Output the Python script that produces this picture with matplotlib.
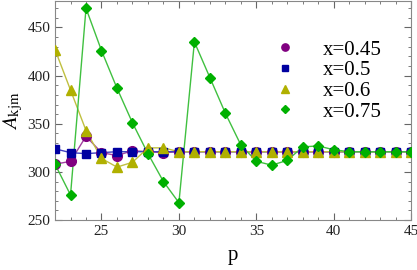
import matplotlib
matplotlib.use("Agg")
import matplotlib.pyplot as plt
from matplotlib.ticker import MultipleLocator

p = list(range(22, 46))
a_045 = [308, 311, 337, 320, 317, 322, 321, 320, 321, 321, 321, 321, 321, 321, 321, 321, 321, 321, 321, 321, 321, 321, 321, 321]
a_050 = [324, 320, 319, 320, 321, 321, 321, 321, 321, 321, 321, 321, 321, 321, 321, 321, 321, 321, 321, 321, 321, 321, 321, 321]
a_060 = [427, 385, 343, 314, 305, 310, 325, 325, 321, 321, 321, 321, 321, 321, 321, 321, 321, 321, 321, 321, 321, 321, 321, 321]
a_075 = [308, 276, 470, 426, 387, 351, 319, 290, 268, 435, 398, 361, 328, 311, 307, 312, 326, 327, 323, 321, 321, 321, 321, 321]
labels = ["x=0.45", "x=0.5", "x=0.6", "x=0.75"]

plt.rcParams['font.family'] = ['Liberation Serif', 'DejaVu Serif']
plt.rcParams['mathtext.fontset'] = 'stix'

fig = plt.figure(figsize=(4.17, 2.70), dpi=100)
ax = fig.add_axes([0.132, 0.185, 0.854, 0.813])

styles = [
    (a_045, 'o', '#800080', '#a040a0', 7),
    (a_050, 's', '#0000a0', '#4040c0', 6),
    (a_060, '^', '#b0b000', '#c0c040', 7),
    (a_075, 'D', '#00b000', '#40c040', 5.5),
]
handles = []
for (vals, m, c, lc, ms), lab in zip(styles, labels):
    ax.plot(p, vals, '-', color=lc, lw=1.0, zorder=2)
    ax.plot(p, vals, linestyle='none', marker=m, color=c, ms=ms, mec=c, zorder=3)
    h, = ax.plot([], [], linestyle='none', marker=m, color=c, ms=ms * 0.75, label=lab)
    handles.append(h)

ax.set_xlim(22, 45)
ax.set_ylim(250, 478)
ax.xaxis.set_major_locator(MultipleLocator(5))
ax.xaxis.set_minor_locator(MultipleLocator(1))
ax.yaxis.set_major_locator(MultipleLocator(50))
ax.yaxis.set_minor_locator(MultipleLocator(10))
ax.tick_params(which='both', direction='in', top=True, right=True, color='#666666',
               labelsize=11, labelcolor='#222222')
ax.tick_params(which='major', length=5)
ax.tick_params(which='minor', length=2.5)
for s in ax.spines.values():
    s.set_color('#888888')

ax.set_xlabel('p', fontsize=15, labelpad=6)
ax.set_ylabel(r'$A_{\mathrm{kjm}}$', fontsize=15, labelpad=2)

ax.legend(handles=handles, loc='upper right', bbox_to_anchor=(0.97, 0.905), frameon=False,
          fontsize=15, handletextpad=1.3, labelspacing=0.05, handlelength=1.0)

fig.savefig('out.png', dpi=100)
